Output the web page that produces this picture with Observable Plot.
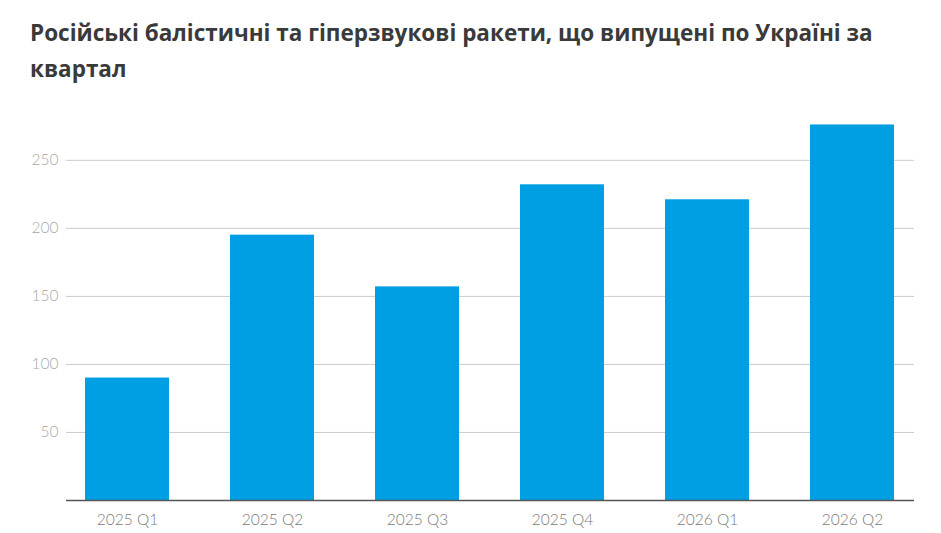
<!DOCTYPE html>
<html>
<head>
<meta charset="utf-8">
<script src="https://cdn.jsdelivr.net/npm/d3@7"></script>
<script src="https://cdn.jsdelivr.net/npm/@observablehq/plot@0.6"></script>
<style>
  html, body { margin: 0; padding: 0; background: #fff; }
  #title {
    font-family: "Open Sans", "Noto Sans", sans-serif;
    font-weight: 700;
    font-size: 22.5px;
    line-height: 36px;
    color: #3a3a3a;
    margin: 0;
    padding: 15px 30px 0 30px;
    height: 100px;
    box-sizing: border-box;
  }
  #chart svg { display: block; }
</style>
</head>
<body>
<div id="title">Російські балістичні та гіперзвукові ракети, що випущені по Україні за квартал</div>
<div id="chart"></div>
<script>
const quarters = ["2025 Q1", "2025 Q2", "2025 Q3", "2025 Q4", "2026 Q1", "2026 Q2"];
const missiles = [90, 195, 157, 232, 221, 276];
const yTicks = [50, 100, 150, 200, 250];

const data = quarters.map((q, i) => ({quarter: q, value: missiles[i]}));

const chart = Plot.plot({
  width: 941,
  height: 433,
  marginLeft: 66,
  marginRight: 27,
  marginTop: 19,
  marginBottom: 33,
  style: {fontFamily: "Lato, 'Open Sans', sans-serif", fontSize: "15.5px", background: "#fff"},
  x: {domain: quarters, paddingInner: 0.42, paddingOuter: 0.13, label: null},
  y: {domain: [0, 280], label: null},
  marks: [
    Plot.ruleY(yTicks, {stroke: "#cccccc", strokeWidth: 1}),
    Plot.barY(data, {x: "quarter", y: "value", fill: "#009fe3"}),
    Plot.ruleY([0], {stroke: "#555555", strokeWidth: 1.5}),
    Plot.axisY({ticks: yTicks, tickSize: 0, tickPadding: 8, label: null, color: "#a8a8a8", fontWeight: 300}),
    Plot.axisX({tickSize: 0, tickPadding: 13, label: null, color: "#7a7a7a", fontWeight: 300})
  ]
});
document.getElementById("chart").appendChild(chart);
</script>
</body>
</html>
